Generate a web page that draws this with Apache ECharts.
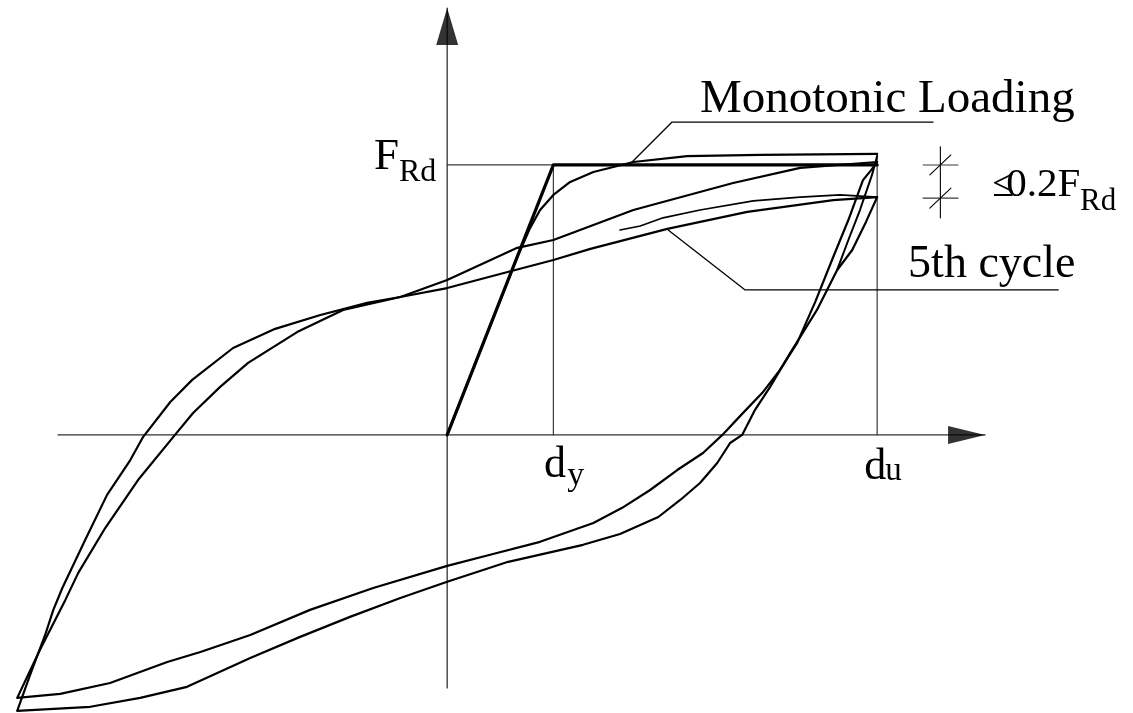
<!DOCTYPE html>
<html>
<head>
<meta charset="utf-8">
<script src="https://cdn.jsdelivr.net/npm/echarts@6/dist/echarts.min.js"></script>
<style>
  html, body { margin: 0; padding: 0; background: #fff; }
  #chart { width: 1133px; height: 713px; }
</style>
</head>
<body>
<div id="chart"></div>
<script>
// Displacement d is normalised by d_u, force F by F_Rd.
const dY = 0.247;

// Idealised elastic - perfectly plastic curve
const bilinearX = [0, dY, 1];
const bilinearY = [0, 1, 1];

// Monotonic loading curve
const monoX = [0, 0.100, 0.163, 0.193, 0.216, 0.247, 0.286, 0.340, 0.433, 0.558, 0.728, 1.000];
const monoY = [0, 0.404, 0.659, 0.767, 0.833, 0.889, 0.937, 0.974, 1.011, 1.033, 1.037, 1.041];

// First cycle: unloading from +d_u to -d_u, then reloading back to +d_u
const cycle1X = [1.000, 0.986, 0.967, 0.933, 0.895, 0.856, 0.814, 0.774, 0.733, 0.686,
  0.640, 0.595, 0.535, 0.472, 0.407, 0.340, 0.216, 0.100, 0, -0.172,
  -0.319, -0.458, -0.574, -0.651, -0.784, -0.900, -1.000,
  -0.947, -0.888, -0.858, -0.795, -0.719, -0.633, -0.591, -0.528, -0.463,
  -0.349, -0.242, -0.109, 0, 0.163, 0.247, 0.433, 0.665, 0.821, 1.000];
const cycle1Y = [1.011, 0.981, 0.944, 0.796, 0.648, 0.493, 0.341, 0.241, 0.156, 0.078,
  0, -0.067, -0.130, -0.204, -0.270, -0.326, -0.396, -0.444, -0.485, -0.567,
  -0.648, -0.741, -0.804, -0.841, -0.919, -0.959, -0.974,
  -0.796, -0.611, -0.511, -0.344, -0.167, 0, 0.081, 0.178, 0.267,
  0.381, 0.463, 0.511, 0.574, 0.693, 0.722, 0.833, 0.933, 0.989, 1.011];

// Fifth cycle
const cycle5X = [1.000, 0.974, 0.942, 0.907, 0.860, 0.798, 0.751, 0.716, 0.686, 0.658,
  0.628, 0.588, 0.542, 0.491, 0.402, 0.316, 0.142, 0, -0.109, -0.226,
  -0.342, -0.458, -0.605, -0.714, -0.830, -1.000,
  -0.970, -0.935, -0.916, -0.895, -0.842, -0.791, -0.737, -0.707, -0.644, -0.593,
  -0.498, -0.400, -0.295, -0.186, -0.109, 0, 0.123, 0.247, 0.333, 0.512, 0.698, 0.898, 1.000];
const cycle5Y = [0.881, 0.789, 0.685, 0.611, 0.463, 0.304, 0.178, 0.093, 0, -0.030,
  -0.104, -0.178, -0.241, -0.304, -0.367, -0.407, -0.470, -0.544, -0.604, -0.674,
  -0.748, -0.826, -0.933, -0.974, -1.007, -1.022,
  -0.889, -0.741, -0.648, -0.567, -0.389, -0.222, -0.093, -0.007, 0.122, 0.204,
  0.322, 0.393, 0.444, 0.489, 0.511, 0.544, 0.596, 0.648, 0.689, 0.763, 0.826, 0.870, 0.881];

// Second trace of the fifth-cycle reloading end, and an unloading start from the peak
const traceX = [0.402, 0.449, 0.502, 0.588, 0.712, 0.821, 0.914, 1.000];
const traceY = [0.759, 0.774, 0.804, 0.833, 0.867, 0.881, 0.889, 0.881];
const unloadX = [1.000, 0.988, 0.960, 0.933, 0.907];
const unloadY = [1.033, 0.963, 0.833, 0.722, 0.611];

// Drawn axes: the d axis from its left end to the arrow tip, the F axis from bottom to tip
const dAxisX = [-0.905, 1.251];
const fAxisY = [-0.937, 1.581];

// Annotation geometry (same units)
const leaderMonoX = [0.430, 0.523, 1.130];
const leaderMonoY = [1.011, 1.159, 1.159];
const leaderCycleX = [0.514, 0.693, 1.421];
const leaderCycleY = [0.759, 0.537, 0.537];
const dropTop = 1.0;      // F_Rd
const dropBottom = 0.877; // fifth-cycle peak level on the dimension mark

// Plot extents (the whole canvas)
const X_MIN = -1.040, X_MAX = 1.595;
const Y_MIN = -1.030, Y_MAX = 1.611;

const zip = (xs, ys) => xs.map((x, i) => [x, ys[i]]);

const chart = echarts.init(document.getElementById('chart'), null, { renderer: 'canvas' });

function line(id, data, width, color, z) {
  return {
    id: id, type: 'line', data: data, showSymbol: false, symbol: 'none',
    clip: false, silent: true, z: z || 3, animation: false,
    lineStyle: { color: color || '#000', width: width, cap: 'round', join: 'round' }
  };
}

function arrowHead(id, point, w, h, rotate, offset) {
  return {
    id: id, type: 'scatter', data: [point], symbol: 'triangle',
    symbolSize: [w, h], symbolRotate: rotate, symbolOffset: offset,
    itemStyle: { color: '#000' }, silent: true, z: 5, clip: false, animation: false
  };
}

const thin = '#3a3a3a';
const dimX = 1.147, dimTickL = 1.107, dimTickR = 1.188, slashDx = 0.0245, slashDy = 0.037;

const series = [
  // axes
  line('dAxis', [[dAxisX[0], 0], [dAxisX[1], 0]], 1.3, '#333', 2),
  line('fAxis', [[0, fAxisY[0]], [0, fAxisY[1]]], 1.3, '#333', 2),
  arrowHead('dArrow', [dAxisX[1], 0], 18, 37, -90, [-18.5, 0]),
  arrowHead('fArrow', [0, fAxisY[1]], 22, 37, 0, [0, 18.5]),
  // guide lines
  line('fRdLevel', [[0, 1], [dY, 1]], 1.2, thin, 2),
  line('dyLine', [[dY, 0], [dY, 1]], 1.2, thin, 2),
  line('duLine', [[1, 0], [1, 1.04]], 1.2, thin, 2),
  // curves
  line('bilinear', zip(bilinearX, bilinearY), 3.2, '#000', 4),
  line('monotonic', zip(monoX, monoY), 2.2, '#000', 4),
  line('cycle1', zip(cycle1X, cycle1Y), 2.2, '#000', 4),
  line('cycle5', zip(cycle5X, cycle5Y), 2.2, '#000', 4),
  line('trace', zip(traceX, traceY), 1.6, '#000', 4),
  line('unload', zip(unloadX, unloadY), 2.0, '#000', 4),
  // leaders
  line('leaderMono', zip(leaderMonoX, leaderMonoY), 1.3, '#000', 3),
  line('leaderCycle', zip(leaderCycleX, leaderCycleY), 1.3, '#000', 3),
  // dimension mark for the strength drop
  line('dimV', [[dimX, 0.804], [dimX, 1.067]], 1.1, '#000', 3),
  line('dimT1', [[dimTickL, dropTop], [dimTickR, dropTop]], 1.1, thin, 3),
  line('dimT2', [[dimTickL, dropBottom], [dimTickR, dropBottom]], 1.1, thin, 3),
  line('dimS1', [[dimX - slashDx, dropTop - slashDy], [dimX + slashDx, dropTop + slashDy]], 1.1, '#000', 3),
  line('dimS2', [[dimX - slashDx, dropBottom - slashDy], [dimX + slashDx, dropBottom + slashDy]], 1.1, '#000', 3)
];

const hiddenAxis = {
  type: 'value',
  axisLine: { show: false },
  axisTick: { show: false },
  axisLabel: { show: false },
  splitLine: { show: false }
};

chart.setOption({
  animation: false,
  backgroundColor: '#fff',
  grid: { left: 0, right: 0, top: 0, bottom: 0 },
  xAxis: Object.assign({}, hiddenAxis, { min: X_MIN, max: X_MAX }),
  yAxis: Object.assign({}, hiddenAxis, { min: Y_MIN, max: Y_MAX }),
  series: series
});

// Text annotations: anchored in data units at the left/right end of the baseline
const labels = [
  { text: 'Monotonic Loading', x: 0.588, y: 1.185, size: 47, align: 'left' },
  { text: '5th cycle', x: 1.072, y: 0.574, size: 46, align: 'left' },
  { text: 'F', x: -0.112, y: 0.974, size: 45, align: 'right' },
  { text: 'Rd', x: -0.112, y: 0.933, size: 32, align: 'left' },
  { text: 'd', x: 0.225, y: -0.167, size: 44, align: 'left' },
  { text: 'y', x: 0.279, y: -0.193, size: 34, align: 'left' },
  { text: 'd', x: 0.970, y: -0.174, size: 44, align: 'left' },
  { text: 'u', x: 1.019, y: -0.174, size: 33, align: 'left' },
  { text: '\u2264', x: 1.268, y: 0.878, size: 40, align: 'left' },
  { text: '0.2F', x: 1.300, y: 0.878, size: 41, align: 'left' },
  { text: 'Rd', x: 1.472, y: 0.826, size: 31, align: 'left' }
];

const graphic = labels.map(function (l) {
  const p = chart.convertToPixel({ gridIndex: 0 }, [l.x, l.y]);
  return {
    type: 'text',
    x: p[0],
    y: p[1] - 0.32 * l.size,
    silent: true,
    z: 10,
    style: {
      text: l.text,
      fill: '#000',
      font: l.size + 'px "Liberation Serif", "Times New Roman", serif',
      textAlign: l.align,
      textVerticalAlign: 'middle'
    }
  };
});

chart.setOption({ graphic: graphic });
</script>
</body>
</html>
